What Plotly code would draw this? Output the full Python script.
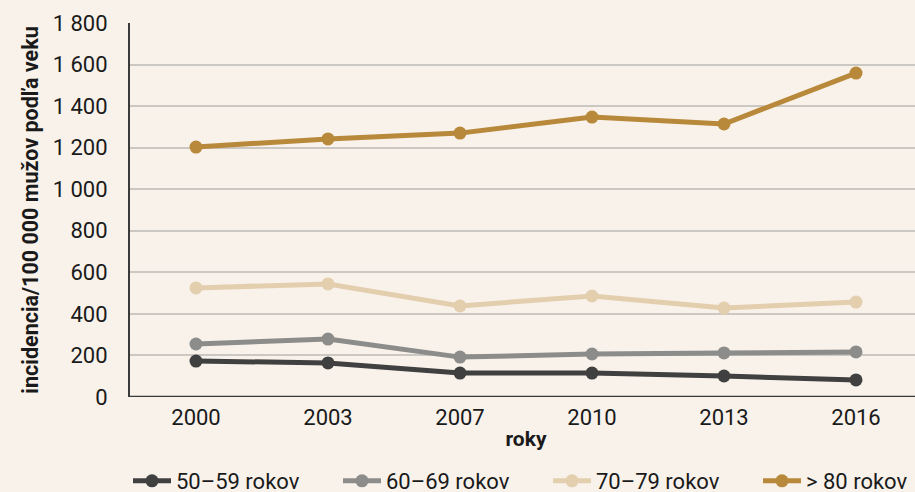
import plotly.graph_objects as go

years = ["2000", "2003", "2007", "2010", "2013", "2016"]
s50 = [173, 164, 115, 115, 101, 82]
s60 = [255, 279, 192, 207, 212, 217]
s70 = [525, 544, 438, 486, 428, 457]
s80 = [1203, 1242, 1270, 1347, 1314, 1559]
names = ["50–59 rokov", "60–69 rokov", "70–79 rokov", "> 80 rokov"]
colors = ["#404040", "#8c8c8a", "#e3cfae", "#b8893a"]
yticks = [0, 200, 400, 600, 800, 1000, 1200, 1400, 1600, 1800]

BG = "#f8f2eb"
W, H = 1000, 520
L, T, PW, PH = 130, 23, 792, 374
fig = go.Figure()
for name, vals, col in zip(names, [s50, s60, s70, s80], colors):
    fig.add_trace(go.Scatter(x=years, y=vals, name=name, mode="lines+markers",
                             line=dict(color=col, width=5),
                             marker=dict(color=col, size=13)))

font = "Roboto, 'Noto Sans', sans-serif"
fig.update_layout(
    width=W, height=H,
    margin=dict(l=L, r=W - L - PW, t=T, b=H - T - PH),
    paper_bgcolor=BG, plot_bgcolor=BG,
    separators=", ",
    font=dict(family=font, size=22, color="#1a1a1a"),
    showlegend=True,
    legend=dict(orientation="h", x=(128 - L) / PW, xanchor="left",
                y=(T + PH - 481) / PH, yanchor="middle",
                font=dict(size=22), entrywidth=157, entrywidthmode="pixels",
                itemwidth=38, bgcolor="rgba(0,0,0,0)", traceorder="normal"),
    xaxis=dict(type="category", range=[-0.5, 5.5], showgrid=False,
               showline=False, ticks="", tickfont=dict(size=22),
               ticklabelstandoff=5,
               title=dict(text="<b>roky</b>", font=dict(size=21), standoff=2)),
    yaxis=dict(range=[0, 1800], tickvals=yticks, tickformat=",d",
               showgrid=True, gridcolor="#cbc7c2", gridwidth=1.5,
               showline=True, linecolor="#3a3a3a", linewidth=2,
               zeroline=False, ticks="", ticklabelstandoff=16,
               tickfont=dict(size=22),
               title=dict(text="<b>incidencia/100 000 mužov podľa veku</b>",
                          font=dict(size=21.5), standoff=8)),
)
fig.add_shape(type="line", xref="paper", yref="y", x0=0, x1=1, y0=0, y1=0,
              line=dict(color="#3a3a3a", width=2.5))
fig.write_html("out.html", config={"displayModeBar": False},
               post_script="document.body.style.margin='0';document.body.style.background='%s';document.body.style.overflow='hidden';" % BG)
